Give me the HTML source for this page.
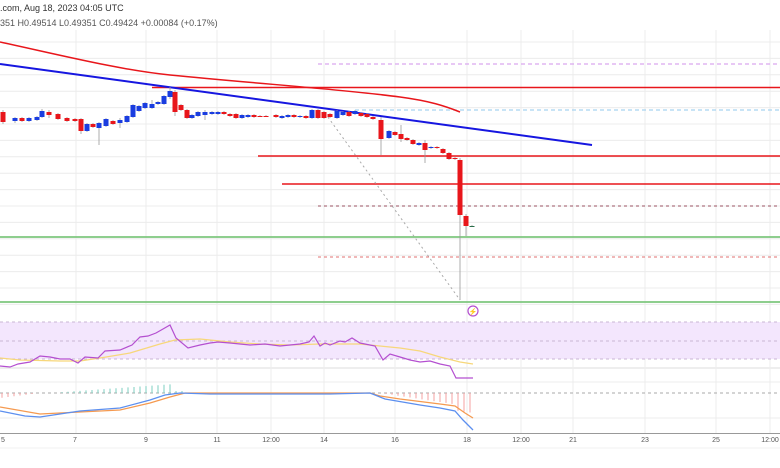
<!DOCTYPE html>
<html><head><meta charset="utf-8"><style>
html,body{margin:0;padding:0;background:#fff;}
svg{display:block;font-family:"Liberation Sans",sans-serif;}
</style></head><body>
<svg id="s" width="780" height="468" viewBox="0 0 780 468" xmlns="http://www.w3.org/2000/svg">
<rect width="780" height="468" fill="#fff"/>
<g id="grid" stroke="#ececec" stroke-width="1"></g>
<text x="0" y="11" font-size="9" fill="#333">.com, Aug 18, 2023 04:05 UTC</text>
<text x="0" y="26" font-size="9" fill="#555">351  H0.49514  L0.49351  C0.49424  +0.00084 (+0.17%)</text>
<!-- levels -->
<line x1="318" y1="64" x2="780" y2="64" stroke="#d9a8ef" stroke-width="1.2" stroke-dasharray="4,3"/>
<line x1="152" y1="87.5" x2="780" y2="87.5" stroke="#e8161b" stroke-width="1.5"/>
<line x1="355" y1="110" x2="780" y2="110" stroke="#a8d4f0" stroke-width="1.2" stroke-dasharray="4,3"/>
<line x1="258" y1="156" x2="780" y2="156" stroke="#e8161b" stroke-width="1.5"/>
<line x1="282" y1="184" x2="780" y2="184" stroke="#e8161b" stroke-width="1.5"/>
<line x1="318" y1="206" x2="780" y2="206" stroke="#9a5060" stroke-width="1" stroke-dasharray="3,3"/>
<line x1="0" y1="237" x2="780" y2="237" stroke="#7ec77e" stroke-width="1.8"/>
<line x1="318" y1="257" x2="780" y2="257" stroke="#e07070" stroke-width="1" stroke-dasharray="3,3"/>
<line x1="0" y1="302" x2="780" y2="302" stroke="#7ec77e" stroke-width="1.8"/>
<line x1="325" y1="113" x2="460" y2="300" stroke="#aaa" stroke-width="1" stroke-dasharray="2,3"/>
<path d="M0,42 C60,55 120,70 170,75 C260,84 340,89 400,97 C430,101 445,106 460,112" fill="none" stroke="#e8161b" stroke-width="1.5"/>
<line x1="0" y1="64" x2="592" y2="145" stroke="#1616e0" stroke-width="2"/>
<g id="candles"></g>
<circle cx="473" cy="311" r="5" fill="none" stroke="#b44fd0" stroke-width="1.2"/>
<text x="473" y="314" font-size="7" fill="#b44fd0" text-anchor="middle">⚡</text>
<!-- RSI -->
<rect x="0" y="322" width="780" height="37" fill="#f3e6fd"/>
<line x1="0" y1="322" x2="780" y2="322" stroke="#c9b5d4" stroke-dasharray="3,3"/>
<line x1="0" y1="341" x2="780" y2="341" stroke="#c9b5d4" stroke-dasharray="3,3"/>
<line x1="0" y1="359" x2="780" y2="359" stroke="#c9b5d4" stroke-dasharray="3,3"/>
<rect x="0" y="367" width="780" height="2" fill="#eee"/>
<polyline fill="none" stroke="#f7d77a" stroke-width="1.2" points="0,358 20,360 60,361 80,361 100,358 130,353 160,344 175,340 200,339 230,342 260,344 290,345 320,344 340,344 360,344 380,346 400,348 420,351 440,357 460,362 473,364"/>
<polyline fill="none" stroke="#b44fd0" stroke-width="1.2" points="0,366 10,367 18,364 30,362 40,356 50,357 60,359 70,359 78,363 85,357 98,358 105,351 120,350 132,345 140,337 148,336 156,333 163,329 170,325 176,338 188,348 200,345 210,343 218,342 230,343 240,344 250,345 265,344 280,346 290,345 300,344 309,342 314,336 320,346 325,343 330,345 340,341 345,342 352,338 360,343 375,346 383,360 390,354 400,357 410,360 420,362 430,361 440,364 450,366 456,378 465,378 473,378"/>
<!-- MACD -->
<line x1="0" y1="393" x2="780" y2="393" stroke="#aaa" stroke-dasharray="3,3"/>
<g id="hist"></g>
<polyline fill="none" stroke="#f59a50" stroke-width="1.3" points="0,407 40,414 80,412 120,410 150,403 170,397 185,393 210,393 260,393 330,393 370,393 380,396 400,399 440,404 455,406 465,413 473,418"/>
<polyline fill="none" stroke="#5c8fef" stroke-width="1.3" points="0,411 25,416 40,417 80,411 120,408 150,400 165,395 180,393 210,394 260,394 330,394 370,393 385,399 420,405 440,408 455,411 463,420 473,430"/>
<line x1="0" y1="433.5" x2="780" y2="433.5" stroke="#999" stroke-width="1"/>
<line x1="0" y1="448" x2="780" y2="448" stroke="#f0f0f0" stroke-width="1"/>
<g font-size="7" fill="#555" text-anchor="middle" id="lab"></g>
</svg>
<script>
var NS="http://www.w3.org/2000/svg";
function el(p,t,a){var e=document.createElementNS(NS,t);for(var k in a)e.setAttribute(k,a[k]);document.getElementById(p).appendChild(e);return e;}
var vx=[76,146,217,271,324,395,467,521,573,645,716,770];
vx.forEach(function(x){el("grid","line",{x1:x,y1:30,x2:x,y2:433});});
for(var y=42;y<320;y+=16.4)el("grid","line",{x1:0,y1:y,x2:780,y2:y});
[382,418].forEach(function(y){el("grid","line",{x1:0,y1:y,x2:780,y2:y});});
var labs=[[3,"5"],[75,"7"],[146,"9"],[217,"11"],[271,"12:00"],[324,"14"],[395,"16"],[467,"18"],[521,"12:00"],[573,"21"],[645,"23"],[716,"25"],[770,"12:00"]];
labs.forEach(function(l){var t=el("lab","text",{x:l[0],y:442});t.textContent=l[1];});
// candles: x, top, bottom, color(r/b), wickTop, wickBot
var c=[[3,112,122,'r',110,124],[15,118,121,'b',117,123],[22,118,121,'r'],[29,118,121,'b'],[37,117,120,'b'],[42,111,117,'b',109,118],[49,112,115,'r',110,118],[58,114,119,'r'],[67,118,121,'r'],[75,119,121,'r'],[81,119,131,'r',118,134],[87,124,131,'b'],[93,124,127,'r'],[99,123,128,'b',122,145],[106,119,126,'b'],[113,121,124,'r'],[120,120,123,'b',118,128],[127,116,122,'b'],[133,105,117,'b'],[139,106,111,'b'],[145,103,108,'b'],[152,104,108,'b',100,109],[158,102,104,'b'],[164,96,104,'b'],[170,91,97,'b',87,99],[175,92,112,'r',90,116],[181,105,110,'r'],[187,110,118,'r'],[192,115,118,'b'],[198,112,116,'b'],[205,112,115,'b',110,120],[212,112,114,'b'],[218,112,114,'b'],[224,112,114,'r'],[230,114,116,'r'],[236,114,118,'r'],[242,115,118,'b'],[248,115,117,'b'],[254,115,117,'r'],[260,116,116,'r'],[266,116,116,'r'],[276,115,117,'r'],[282,116,118,'b'],[288,115,117,'b'],[294,115,117,'r'],[300,116,117,'b'],[306,116,118,'r'],[312,110,118,'b'],[318,110,118,'r'],[324,112,118,'r'],[330,114,117,'r'],[337,111,118,'b'],[343,112,115,'b'],[349,112,116,'r'],[355,111,114,'b'],[361,113,116,'r'],[367,114,117,'r'],[373,117,119,'r'],[381,120,139,'r',117,155],[389,131,138,'b'],[395,132,135,'r'],[401,134,139,'r',125,142],[407,138,140,'r'],[413,140,144,'r'],[419,143,145,'b'],[425,143,150,'r',140,163],[431,147,148,'b'],[437,147,148,'r'],[443,149,153,'r'],[449,153,159,'r'],[455,158,159,'r'],[460,160,215,'r',158,300],[466,216,226,'r',214,236],[472,226,226,'g']];
var col={r:'#e8161b',b:'#1a3de0',g:'#2a6f4a'};
c.forEach(function(k){var cl=col[k[3]];var wt=k[4]||k[1]-1,wb=k[5]||k[2]+1;
el("candles","line",{x1:k[0],y1:wt,x2:k[0],y2:wb,stroke:"#999","stroke-width":0.8});
el("candles","rect",{x:k[0]-2.5,y:k[1],width:5,height:Math.max(1,k[2]-k[1]),fill:cl});});
// histogram
for(var x=2;x<=473;x+=6){var v;
if(x<40)v=(40-x)/40*5;else if(x<50)v=0;else if(x<175)v=-(x-50)/125*9;else if(x<185)v=-2;else if(x<380)v=0;else v=(x-380)/93*14;
if(x>455)v=v+6;
if(Math.abs(v)<0.5)continue;
el("hist","line",{x1:x,y1:393,x2:x,y2:393+v,stroke:v>0?"#f5a0a0":"#7ccfc0","stroke-width":1});}
</script>
</body></html>
